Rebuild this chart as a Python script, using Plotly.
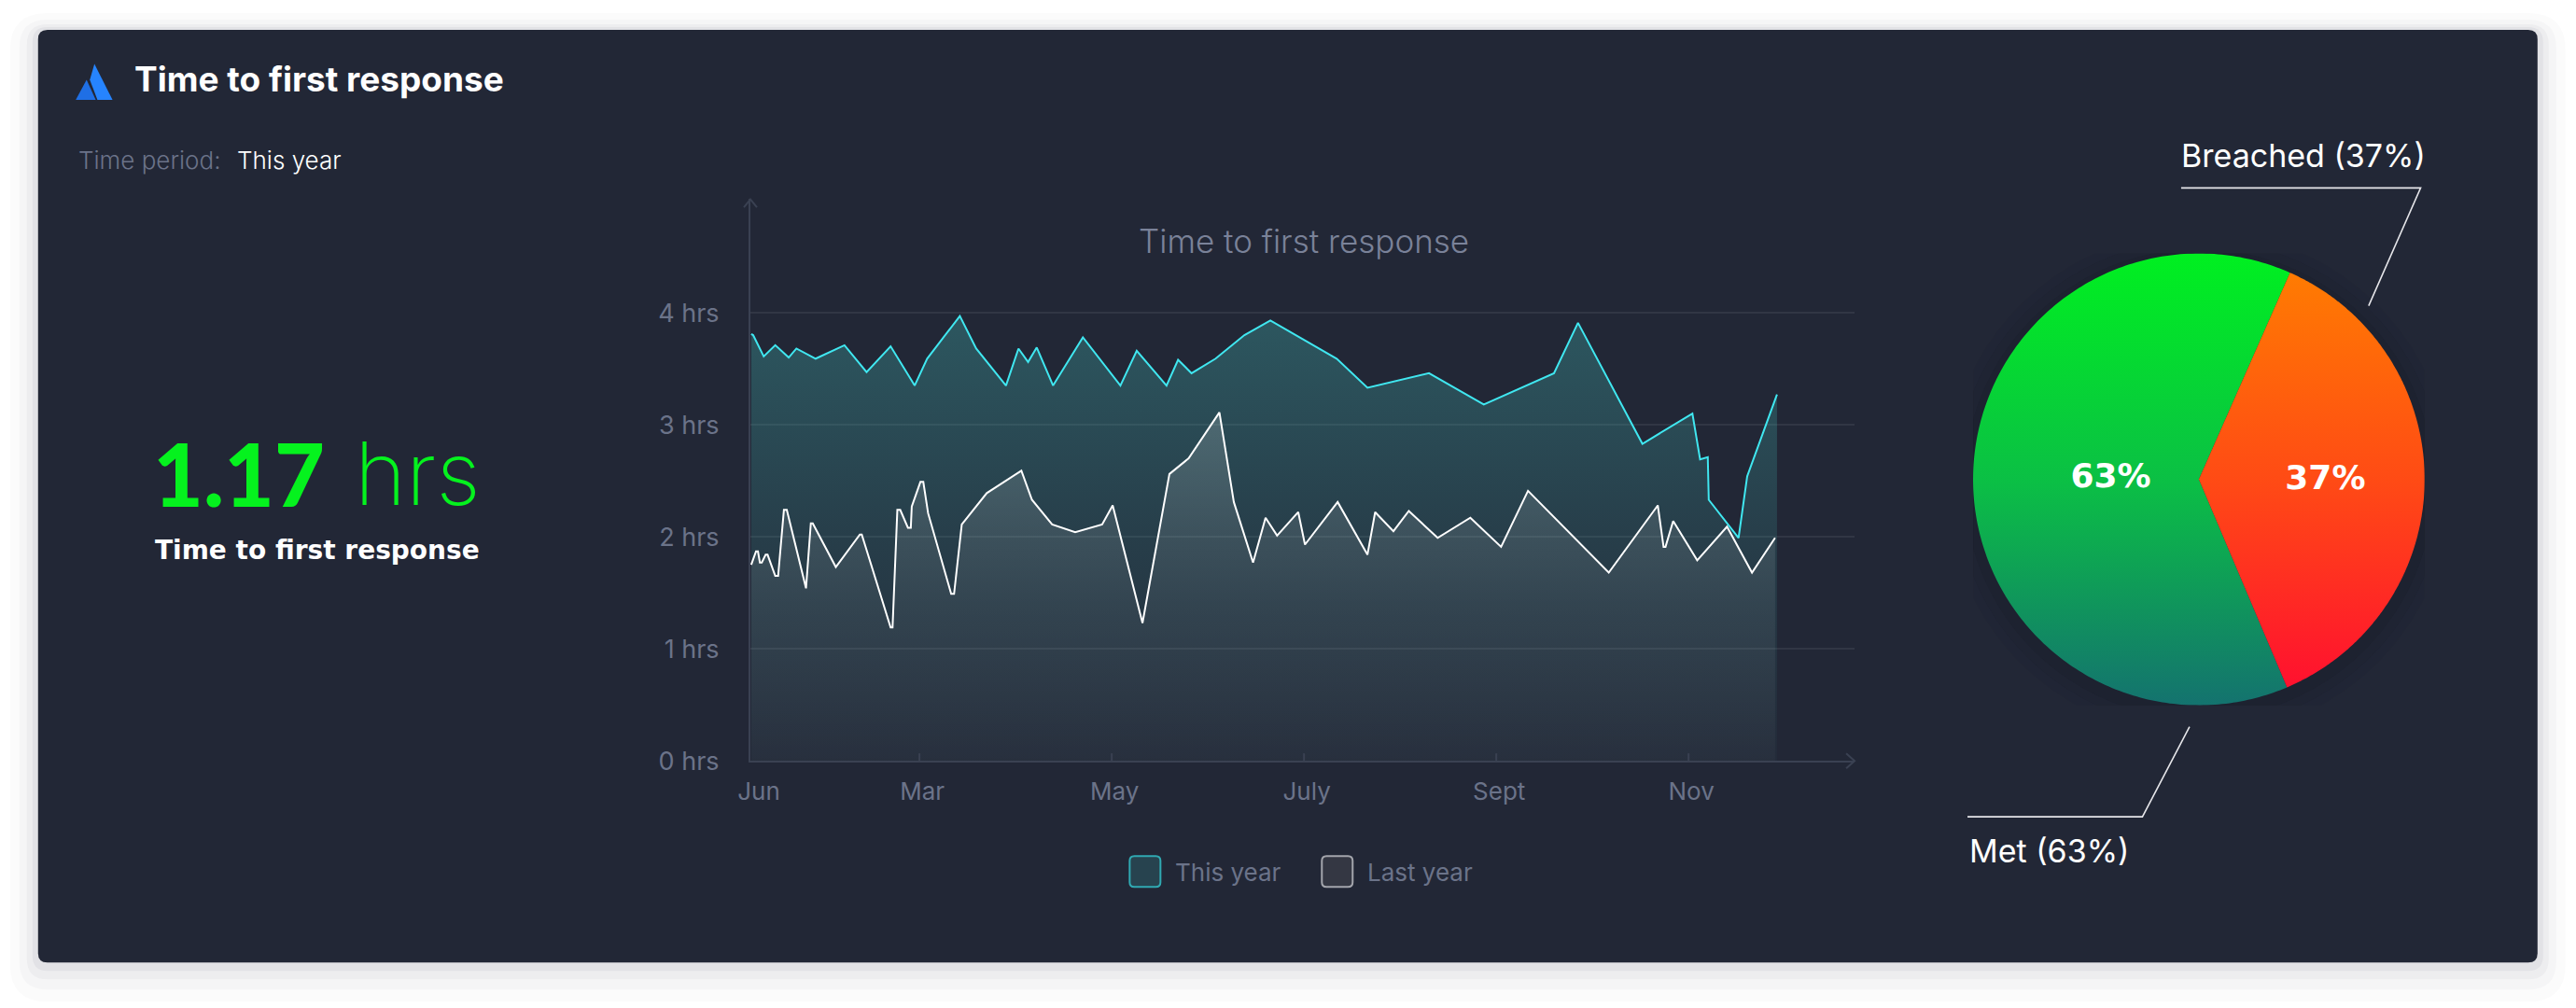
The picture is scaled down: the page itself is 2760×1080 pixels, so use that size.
import numpy as np
import plotly.graph_objects as go

# ---------------- data ----------------
x_tick_vals = [1.30, 3, 5, 7, 9, 11]
x_tick_labels = ["Jun", "Mar", "May", "July", "Sept", "Nov"]
x_tick_marks = [3, 5, 7, 9, 11]
y_tick_vals = [0, 1, 2, 3, 4]
y_tick_labels = ["0 hrs", "1 hrs", "2 hrs", "3 hrs", "4 hrs"]

this_year_x = [1.25, 1.27, 1.38, 1.50, 1.64, 1.72, 1.92, 2.22, 2.45, 2.70,
               2.95, 3.08, 3.42, 3.59, 3.90, 4.03, 4.13, 4.22, 4.39, 4.70,
               5.09, 5.26, 5.57, 5.69, 5.83, 6.08, 6.38, 6.65, 7.34, 7.66,
               8.30, 8.87, 9.60, 9.85, 10.52, 11.04, 11.12, 11.20, 11.21, 11.52,
               11.61, 11.92]
this_year_y = [3.81, 3.80, 3.61, 3.71, 3.60, 3.68, 3.59, 3.71, 3.47, 3.70,
               3.35, 3.59, 3.97, 3.68, 3.35, 3.68, 3.56, 3.69, 3.35, 3.78,
               3.35, 3.66, 3.35, 3.58, 3.46, 3.59, 3.80, 3.93, 3.59, 3.33,
               3.46, 3.18, 3.46, 3.91, 2.83, 3.10, 2.69, 2.71, 2.33, 1.99,
               2.54, 3.27]

last_year_x = [1.25, 1.30, 1.32, 1.34, 1.36, 1.40, 1.42, 1.50, 1.53, 1.59,
               1.62, 1.82, 1.87, 1.89, 2.13, 2.38, 2.40, 2.70, 2.72, 2.77,
               2.80, 2.88, 2.91, 2.92, 3.01, 3.04, 3.09, 3.33, 3.36, 3.44,
               3.70, 4.06, 4.17, 4.38, 4.62, 4.90, 5.01, 5.32, 5.60, 5.80,
               6.12, 6.27, 6.47, 6.60, 6.72, 6.94, 7.01, 7.35, 7.66, 7.74,
               7.93, 8.09, 8.39, 8.73, 9.05, 9.33, 10.17, 10.68, 10.74, 10.76,
               10.84, 11.09, 11.40, 11.66, 11.90]
last_year_y = [1.75, 1.87, 1.87, 1.77, 1.77, 1.84, 1.84, 1.65, 1.65, 2.24,
               2.24, 1.54, 2.12, 2.12, 1.73, 2.02, 2.02, 1.19, 1.19, 2.24,
               2.24, 2.08, 2.08, 2.27, 2.49, 2.49, 2.21, 1.49, 1.49, 2.11,
               2.39, 2.59, 2.33, 2.11, 2.04, 2.11, 2.28, 1.23, 2.56, 2.70,
               3.11, 2.31, 1.77, 2.17, 2.01, 2.22, 1.93, 2.31, 1.84, 2.22,
               2.05, 2.23, 1.99, 2.17, 1.91, 2.41, 1.68, 2.28, 1.91, 1.91,
               2.14, 1.79, 2.09, 1.68, 1.99]

series_names = ["This year", "Last year"]
pie_labels = ["Met", "Breached"]
pie_values = [63, 37]
kpi_value = "1.17"
kpi_unit = "hrs"

# ---------------- styling ----------------
W, H = 2760, 1080
SX, OX, SY = 0.9953, 13.2, 0.985   # compensation for the capture transform
BG = "#222736"
OUTER = "#FFFFFF"
CYAN = "#40E7F0"
AXIS = "#3A4152"
GRID = "rgba(255,255,255,0.07)"
GRAY = "#6B7389"
GREEN = "#05F21E"
FONT = "Inter"
WIDE = "DejaVu Sans"


def fx(X):
    return ((X - OX) / SX) / W


def fy(Y):
    return 1 - (Y / SY) / H


def rrect(x0, y0, x1, y1, r):
    pts = [
        ("M", [(x0 + r, y0)]), ("L", [(x1 - r, y0)]), ("Q", [(x1, y0), (x1, y0 + r)]),
        ("L", [(x1, y1 - r)]), ("Q", [(x1, y1), (x1 - r, y1)]),
        ("L", [(x0 + r, y1)]), ("Q", [(x0, y1), (x0, y1 - r)]),
        ("L", [(x0, y0 + r)]), ("Q", [(x0, y0), (x0 + r, y0)]),
    ]
    s = ""
    for cmd, ps in pts:
        s += cmd + " " + " ".join(f"{fx(a):.6f},{fy(b):.6f}" for a, b in ps) + " "
    return s + "Z"


def poly(points):
    s = "M " + " L ".join(f"{fx(a):.6f},{fy(b):.6f}" for a, b in points)
    return s + " Z"


def polyline(points):
    return "M " + " L ".join(f"{fx(a):.6f},{fy(b):.6f}" for a, b in points)


def ann(text, X, Y, size, color, weight=400, xanchor="left", family=FONT):
    return dict(text=text, x=fx(X), y=fy(Y), xref="paper", yref="paper",
                showarrow=False, xanchor=xanchor, yanchor="middle",
                font=dict(family=family, size=size, color=color, weight=weight))


fig = go.Figure()

# ---- line chart ----
fig.add_trace(go.Scatter(
    x=this_year_x, y=this_year_y, name=series_names[0], mode="lines",
    line=dict(color=CYAN, width=2), fill="tozeroy",
    fillgradient=dict(type="vertical", start=0, stop=4,
                      colorscale=[[0, "rgba(67,189,184,0.02)"],
                                  [0.5, "rgba(67,189,184,0.15)"],
                                  [1, "rgba(67,189,184,0.32)"]]),
    xaxis="x", yaxis="y", hoverinfo="skip"))
fig.add_trace(go.Scatter(
    x=last_year_x, y=last_year_y, name=series_names[1], mode="lines",
    line=dict(color="#FFFFFF", width=2), fill="tozeroy",
    fillgradient=dict(type="vertical", start=0, stop=3.2,
                      colorscale=[[0, "rgba(255,255,255,0.02)"],
                                  [0.45, "rgba(255,255,255,0.06)"],
                                  [1, "rgba(255,255,255,0.17)"]]),
    xaxis="x", yaxis="y", hoverinfo="skip"))

# ---- pie (wedges from values) ----
pie_scales = [
    [[0, "#147070"], [0.5, "#0BBF45"], [1, "#00F020"]],
    [[0, "#FF0A32"], [0.5, "#FF4A15"], [1, "#FF8000"]],
]
total = sum(pie_values)
rotation = 157.0
start = rotation
label_pos_x, label_pos_y, label_txt = [], [], []
label_r = [0.39, 0.56]
for i, v in enumerate(pie_values):
    span = v / total * 360.0
    th = np.radians(np.linspace(start, start + span, 240))
    xs = np.concatenate([[0], np.sin(th), [0]])
    ys = np.concatenate([[0], np.cos(th), [0]])
    fig.add_trace(go.Scatter(
        x=xs, y=ys, mode="none", fill="toself", name=pie_labels[i],
        fillgradient=dict(type="vertical", start=-1, stop=1, colorscale=pie_scales[i]),
        xaxis="x2", yaxis="y2", hoverinfo="skip"))
    mid = np.radians(start + span / 2)
    label_pos_x.append(label_r[i] * np.sin(mid))
    label_pos_y.append(label_r[i] * np.cos(mid))
    label_txt.append(f"{v / total * 100:.0f}%")
    start += span

fig.add_trace(go.Scatter(
    x=label_pos_x, y=label_pos_y, mode="text", text=label_txt,
    textfont=dict(family=WIDE, size=36, color="#FFFFFF", weight=700),
    xaxis="x2", yaxis="y2", hoverinfo="skip"))

# ---------------- shapes ----------------
shapes = []
for g, dy, a in [(30, 12, 0.018), (20, 9, 0.028), (12, 6, 0.04), (6, 3, 0.05)]:
    shapes.append(dict(type="path", path=rrect(40 - g, 32 - g + dy, 2719 + g, 1031 + g + dy, 10 + g),
                       xref="paper", yref="paper", fillcolor=f"rgba(40,45,75,{a})",
                       line=dict(width=0), layer="below"))
shapes.append(dict(type="path", path=rrect(40, 32, 2719, 1031, 10), xref="paper", yref="paper",
                   fillcolor=BG, line=dict(width=0), layer="below"))

# pie shadow
for r, a in [(1.12, 0.03), (1.08, 0.05), (1.04, 0.07)]:
    shapes.append(dict(type="circle", xref="x2", yref="y2", x0=-r, x1=r, y0=-r - 0.02, y1=r - 0.02,
                       fillcolor=f"rgba(10,12,20,{a})", line=dict(width=0), layer="below"))

# logo
shapes.append(dict(type="path", path=poly([(92, 85.4), (80.4, 107), (101.8, 107)]),
                   xref="paper", yref="paper", fillcolor="#1F6FE5", line=dict(width=0)))
shapes.append(dict(type="path", path=poly([(100.4, 68.5), (119.8, 107), (103.6, 107), (95.5, 85.4)]),
                   xref="paper", yref="paper", fillcolor="#2684FF", line=dict(width=0)))

# axis arrows
shapes.append(dict(type="path", path=polyline([(796.5, 222), (803.5, 213.5), (810.5, 222)]),
                   xref="paper", yref="paper", line=dict(color=AXIS, width=2)))
shapes.append(dict(type="path", path=polyline([(1978, 807), (1987, 815), (1978, 823)]),
                   xref="paper", yref="paper", line=dict(color=AXIS, width=2)))
# x tick marks
for v in x_tick_marks:
    shapes.append(dict(type="line", xref="x", yref="paper", x0=v, x1=v, y0=fy(815), y1=fy(807),
                       line=dict(color=AXIS, width=2)))

# legend boxes
shapes.append(dict(type="path", path=rrect(1210, 917, 1243, 950, 5), xref="paper", yref="paper",
                   fillcolor="#27434F", line=dict(color="#30A9B2", width=2)))
shapes.append(dict(type="path", path=rrect(1416, 917, 1449, 950, 5), xref="paper", yref="paper",
                   fillcolor="#343743", line=dict(color="#A3A5AC", width=2)))

# pie leader lines
shapes.append(dict(type="path", path=polyline([(2538, 327.6), (2593.7, 201.3), (2337, 201.3)]),
                   xref="paper", yref="paper", line=dict(color="#E6E6EA", width=1.6)))
shapes.append(dict(type="path", path=polyline([(2346, 778.6), (2295.5, 875), (2108, 875)]),
                   xref="paper", yref="paper", line=dict(color="#E6E6EA", width=1.6)))

# ---------------- annotations ----------------
annotations = [
    ann("Time to first response", 141, 84.5, 37, "#FFFFFF", 700),
    ann("Time period:", 81, 171, 26, GRAY, 300),
    ann("This year", 251, 171, 26, "#FFFFFF", 300),
    ann(kpi_value, 349, 506.5, 93, GREEN, 900, "right", "Lato"),
    ann(kpi_unit, 377, 506.5, 94, GREEN, 200),
    ann("Time to first response", 339, 589, 28, "#FFFFFF", 700, "center", WIDE),
    ann("Time to first response", 1397, 258, 35, "#7A8299", 300, "center"),
    ann(series_names[0], 1257, 934, 26, GRAY, 400),
    ann(series_names[1], 1463, 934, 26, GRAY, 400),
    ann(f"{pie_labels[1]} ({pie_values[1] / total * 100:.0f}%)", 2335, 166, 34, "#FFFFFF", 400),
    ann(f"{pie_labels[0]} ({pie_values[0] / total * 100:.0f}%)", 2108, 911, 34, "#FFFFFF", 400),
]

tickfont = dict(family=FONT, size=27, color=GRAY)
X_MIN, X_MAX = 1.2415, 12.727
fig.update_layout(
    width=W, height=H, margin=dict(l=0, r=0, t=0, b=0),
    paper_bgcolor=OUTER, plot_bgcolor="rgba(0,0,0,0)", showlegend=False,
    xaxis=dict(domain=[fx(803.5), fx(1987)], range=[X_MIN, X_MAX], anchor="y",
               tickmode="array", tickvals=x_tick_vals, ticktext=x_tick_labels,
               showgrid=False, zeroline=False, showline=True, linecolor=AXIS, linewidth=2,
               ticks="", tickfont=dict(family=FONT, size=26, color=GRAY),
               ticklabelstandoff=9, ticklabelshift=3, fixedrange=True),
    yaxis=dict(domain=[fy(815), fy(213)], range=[0, 5.0167], anchor="x",
               tickmode="array", tickvals=y_tick_vals, ticktext=y_tick_labels,
               showgrid=True, gridcolor=GRID, gridwidth=2, zeroline=False,
               showline=True, linecolor=AXIS, linewidth=2, ticks="",
               tickfont=tickfont, ticklabelstandoff=26, fixedrange=True),
    xaxis2=dict(domain=[fx(2114), fx(2598)], range=[-1, 1], anchor="y2", visible=False,
                fixedrange=True),
    yaxis2=dict(domain=[fy(755.5), fy(271.5)], range=[-1, 1], anchor="x2", visible=False,
                fixedrange=True),
    shapes=shapes, annotations=annotations,
)

fig.write_html(
    "out.html", include_plotlyjs=True,
    config={"displayModeBar": False, "responsive": False},
    post_script="document.documentElement.style.margin='0';document.body.style.margin='0';"
                "document.body.style.overflow='hidden';document.body.style.background='#FFFFFF';",
)
